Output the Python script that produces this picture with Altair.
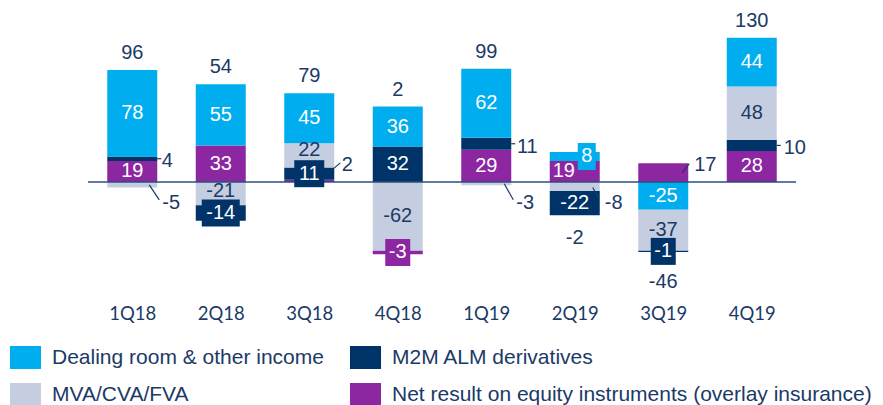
import json
import altair as alt
import pandas as pd

# ---------------- data ----------------
quarters = ["1Q18", "2Q18", "3Q18", "4Q18", "1Q19", "2Q19", "3Q19", "4Q19"]
series = [
    "Dealing room & other income",
    "M2M ALM derivatives",
    "MVA/CVA/FVA",
    "Net result on equity instruments (overlay insurance)",
]
dealing = [78, 55, 45, 36, 62, 8, -25, 44]
m2m = [4, -14, 11, 32, 11, -22, -1, 10]
mva = [-5, -21, 22, -62, -3, -8, -37, 48]
equity = [19, 33, 2, -3, 29, 19, 17, 28]
totals = [96, 54, 79, 2, 99, -2, -46, 130]

colors = ["#00AEEF", "#003468", "#C5CEE0", "#8C26A1"]
NAVY = "#1B3A66"
WHITE = "#FFFFFF"

# ---------------- layout constants ----------------
W, H = 708, 283
Y_MIN, Y_MAX = -100, 155
KX = W / len(quarters)          # px per category unit
KY = H / (Y_MAX - Y_MIN)        # px per value unit
BAR_HALF = 25 / KX
BOX_H = 27 / KY
FONT = "Liberation Sans, Arial, sans-serif"

values = [dealing, m2m, mva, equity]
short = ["D", "M", "V", "E"]
POS_ORDER = [3, 1, 2, 0]   # from zero upwards
NEG_ORDER = [0, 2, 1, 3]   # from zero downwards
LEGEND_ORDER = [0, 2, 1, 3]  # legend fills column by column

# label placement rules: mode, dx, dy (px, screen), box width, leader
place = {
    ("1Q18", "M"): dict(mode="out", dx=35, dy=2, lead=(25, 0, 29, 0)),
    ("1Q18", "V"): dict(mode="out", dx=39, dy=18, lead=(17, 0, 27, 15)),
    ("2Q18", "V"): dict(mode="in", dy=-3),
    ("2Q18", "M"): dict(mode="box", bw=38),
    ("3Q18", "E"): dict(mode="out", dx=38, dy=-16, lead=(24, -12, 31, -18)),
    ("3Q18", "M"): dict(mode="box", bw=30),
    ("3Q18", "V"): dict(mode="in", dy=-5),
    ("4Q18", "E"): dict(mode="box", bw=25),
    ("1Q19", "M"): dict(mode="out", dx=41, dy=3, lead=(25, 0, 29, 0)),
    ("1Q19", "V"): dict(mode="out", dx=39, dy=19, lead=(18, 0, 27, 16)),
    ("2Q19", "E"): dict(mode="in", dx=-11),
    ("2Q19", "D"): dict(mode="box", bw=18, dx=12),
    ("2Q19", "V"): dict(mode="out", dx=39, dy=17, lead=(18, 1, 24, 12)),
    ("3Q19", "E"): dict(mode="out", dx=42, dy=-8, lead=(19, 0, 26, -9)),
    ("3Q19", "M"): dict(mode="box", bw=25),
    ("4Q19", "M"): dict(mode="out", dx=43, dy=3, lead=(25, 0, 29, 0)),
}
neg_total_dy = {"2Q19": 23, "3Q19": 30}

bars, labels, boxes, leads = [], [], [], []
for i, q in enumerate(quarters):
    segs = {}
    pos = 0.0
    for s in POS_ORDER:
        v = values[s][i]
        if v >= 0:
            segs[s] = (pos, pos + v)
            pos += v
    neg = 0.0
    for s in NEG_ORDER:
        v = values[s][i]
        if v < 0:
            segs[s] = (neg + v, neg)
            neg += v
    for s, (a, b) in segs.items():
        bars.append(dict(x0=i - BAR_HALF, x1=i + BAR_HALF, y0=a, y1=b, series=series[s]))
        mid = (a + b) / 2
        p = place.get((q, short[s]), dict(mode="in"))
        dx, dy = p.get("dx", 0), p.get("dy", 0)
        lx, ly = i + dx / KX, mid - dy / KY
        txt = str(values[s][i])
        if p["mode"] == "out":
            tc = NAVY
            l = p["lead"]
            leads.append(dict(x=i + l[0] / KX, y=mid - l[1] / KY,
                              x2=i + l[2] / KX, y2=mid - l[3] / KY))
        elif p["mode"] == "box":
            tc = WHITE
            hw = p["bw"] / 2 / KX
            boxes.append(dict(x0=lx - hw, x1=lx + hw, y0=ly - BOX_H / 2,
                              y1=ly + BOX_H / 2, fill=colors[s]))
        else:
            tc = NAVY if s == 2 else WHITE
        labels.append(dict(x=lx, y=ly, text=txt, tc=tc))
    t = totals[i]
    if t >= 0:
        labels.append(dict(x=i, y=pos + 17 / KY, text=str(t), tc=NAVY))
    else:
        labels.append(dict(x=i, y=neg - neg_total_dy.get(q, 23) / KY, text=str(t), tc=NAVY))

bars_df = pd.DataFrame(bars)
lab_df = pd.DataFrame(labels)
box_df = pd.DataFrame(boxes)
lead_df = pd.DataFrame(leads)

xscale = alt.Scale(domain=[-0.5, len(quarters) - 0.5], nice=False, zero=False)
yscale = alt.Scale(domain=[Y_MIN, Y_MAX], nice=False, zero=False)
xaxis = alt.Axis(
    values=list(range(len(quarters))),
    labelExpr=json.dumps(quarters) + "[datum.value]",
    title=None, grid=False, domain=False, ticks=False, tickSize=0,
    labelFont="Lato, sans-serif", labelFontSize=18.5, labelColor=NAVY,
    labelPadding=11, labelFlush=False, labelOverlap=False,
)

PATH = "M-1.35,-1H1.35V1H-1.35Z"

bar_layer = alt.Chart(bars_df).mark_rect().encode(
    x=alt.X("x0:Q", scale=xscale, axis=xaxis),
    x2="x1:Q",
    y=alt.Y("y0:Q", scale=yscale, axis=None),
    y2="y1:Q",
    color=alt.Color(
        "series:N",
        scale=alt.Scale(domain=[series[k] for k in LEGEND_ORDER],
                        range=[colors[k] for k in LEGEND_ORDER]),
        legend=alt.Legend(
            orient="none", legendX=-74, legendY=336, columns=2, title=None,
            symbolType=PATH, symbolSize=529, symbolStrokeWidth=0, symbolOpacity=1,
            labelFont=FONT, labelFontSize=21, labelColor=NAVY, labelOffset=15,
            columnPadding=25, rowPadding=14, labelLimit=700, padding=0,
        ),
    ),
)

zero_layer = alt.Chart(pd.DataFrame({"z": [0]})).mark_rule(
    color="#2B4F7E", strokeWidth=1.6
).encode(y=alt.Y("z:Q", scale=yscale, axis=None))

lead_layer = alt.Chart(lead_df).mark_rule(color=NAVY, strokeWidth=1.2).encode(
    x=alt.X("x:Q", scale=xscale, axis=xaxis),
    x2="x2:Q",
    y=alt.Y("y:Q", scale=yscale, axis=None),
    y2="y2:Q",
)

box_layer = alt.Chart(box_df).mark_rect().encode(
    x=alt.X("x0:Q", scale=xscale, axis=xaxis),
    x2="x1:Q",
    y=alt.Y("y0:Q", scale=yscale, axis=None),
    y2="y1:Q",
    color=alt.Color("fill:N", scale=None),
)

text_layer = alt.Chart(lab_df).mark_text(
    font=FONT, fontSize=20, align="center", baseline="middle"
).encode(
    x=alt.X("x:Q", scale=xscale, axis=xaxis),
    y=alt.Y("y:Q", scale=yscale, axis=None),
    text="text:N",
    color=alt.Color("tc:N", scale=None),
)

chart = alt.layer(bar_layer, zero_layer, lead_layer, box_layer, text_layer).properties(
    width=W, height=H,
    padding={"left": 80, "top": 2, "right": 79, "bottom": 112},
    autosize=alt.AutoSizeParams(type="none"),
).configure_view(stroke=None)

chart.save("out.html", embed_options={"renderer": "svg", "actions": False})
